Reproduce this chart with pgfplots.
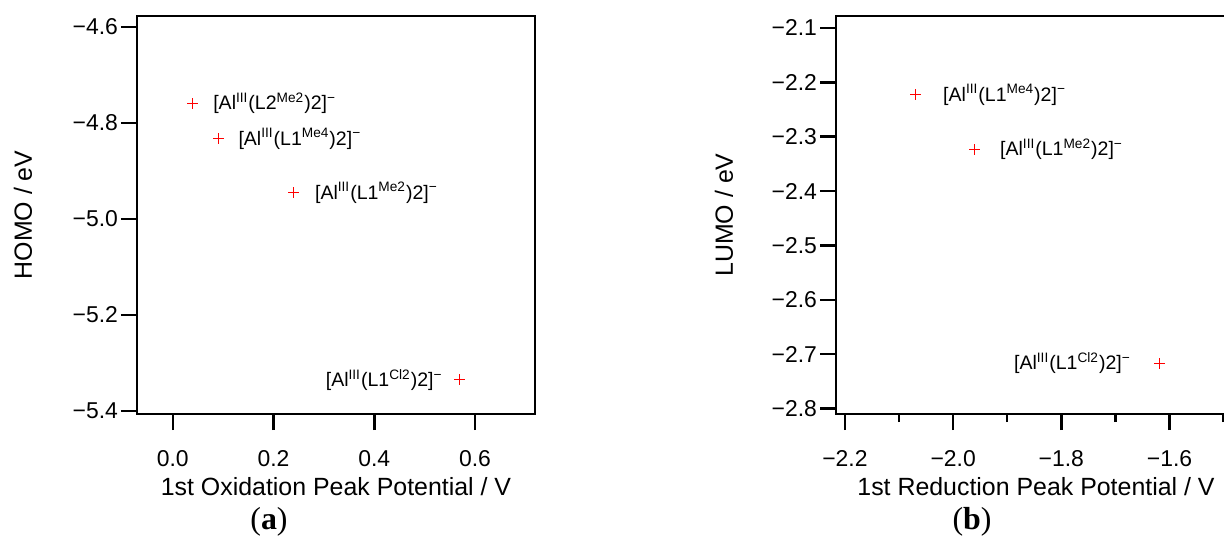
\documentclass[border=0pt]{standalone}
\usepackage{pgfplots}
\pgfplotsset{compat=1.18}
\usepackage{fontspec}
\setmainfont{Liberation Sans}
\newfontfamily\capfont{Liberation Serif}

% complex label: [Al^III(L#1^#2)2]^-
\newcommand{\cpd}[2]{[Al\textsuperscript{III}(L#1\textsuperscript{#2})2]\textsuperscript{−}}

\pgfplotsset{
  panel/.style={
    scale only axis, height=199bp,
    axis line style={line width=1.25bp},
    every tick/.style={line width=1.25bp, draw=black},
    tick align=outside, tick pos=left,
    major tick length=8bp, minor tick length=4bp,
    tick label style={font=\fontsize{11.5}{13}\selectfont},
    xticklabel style={yshift=-6.5bp},
    yticklabel style={xshift=2bp},
    label style={font=\fontsize{12.5}{14}\selectfont},
    xlabel style={at={(axis description cs:0.5,-0.205)}, anchor=base},
    clip=false,
  },
}
\tikzset{lbl/.style={font=\fontsize{9.8}{11}\selectfont, inner sep=0pt}}

\begin{document}
\begin{tikzpicture}
\begin{axis}[panel,
  width=199bp,
  xmin=-0.071, xmax=0.719, ymin=-5.406, ymax=-4.577,
  xtick={0,0.2,0.4,0.6}, xticklabels={0.0,0.2,0.4,0.6},
  ytick={-5.4,-5.2,-5.0,-4.8,-4.6}, yticklabels={−5.4,−5.2,−5.0,−4.8,−4.6},
  xlabel={1st Oxidation Peak Potential / V},
  ylabel={HOMO / eV},
  ylabel style={at={(axis description cs:-0.264,0.5)}, anchor=base},
]
\node[lbl, anchor=west] at (axis cs:0.04,-4.759) [xshift=10bp] {\cpd{2}{Me2}};
\node[lbl, anchor=west] at (axis cs:0.09,-4.833) [xshift=10bp] {\cpd{1}{Me4}};
\node[lbl, anchor=west] at (axis cs:0.24,-4.945) [xshift=10.5bp] {\cpd{1}{Me2}};
\node[lbl, anchor=east] at (axis cs:0.57,-5.335) [xshift=-8.5bp] {\cpd{1}{Cl2}};
% red "+" markers drawn as symmetric error bars
\addplot[draw=none, mark=none,
  error bars/.cd, x dir=both, y dir=both, x fixed=0.0109, y fixed=0.0115,
  error mark=none, error bar style={draw=red, line width=0.5bp}]
  coordinates {(0.04,-4.759) (0.09,-4.833) (0.24,-4.945) (0.57,-5.335)};
\end{axis}

\begin{axis}[panel, at={(349.5bp,0)},
  width=200bp,
  xmin=-2.2166, xmax=-1.477, ymin=-2.81, ymax=-2.078,
  xtick={-2.2,-2.0,-1.8,-1.6}, xticklabels={−2.2,−2.0,−1.8,−1.6},
  minor xtick={-2.1,-1.9,-1.7,-1.5},
  ytick={-2.8,-2.7,-2.6,-2.5,-2.4,-2.3,-2.2,-2.1},
  yticklabels={−2.8,−2.7,−2.6,−2.5,−2.4,−2.3,−2.2,−2.1},
  xlabel={1st Reduction Peak Potential / V},
  ylabel={LUMO / eV},
  ylabel style={at={(axis description cs:-0.2575,0.5)}, anchor=base},
]
\node[lbl, anchor=west] at (axis cs:-2.069,-2.223) [xshift=13.5bp] {\cpd{1}{Me4}};
\node[lbl, anchor=west] at (axis cs:-1.960,-2.323) [xshift=12.5bp] {\cpd{1}{Me2}};
\node[lbl, anchor=east] at (axis cs:-1.619,-2.717) [xshift=-14bp] {\cpd{1}{Cl2}};
\addplot[draw=none, mark=none,
  error bars/.cd, x dir=both, y dir=both, x fixed=0.0102, y fixed=0.0101,
  error mark=none, error bar style={draw=red, line width=0.5bp}]
  coordinates {(-2.069,-2.223) (-1.960,-2.323) (-1.619,-2.717)};
\end{axis}

\node[font=\capfont\fontsize{16}{18}\selectfont] at (66bp,-54bp) {(\textbf{a})};
\node[font=\capfont\fontsize{16}{18}\selectfont] at (417.5bp,-54bp) {(\textbf{b})};

\pgfresetboundingbox
\useasboundingbox (-68.5bp,-61bp) rectangle (543.5bp,207bp);
\end{tikzpicture}
\end{document}
